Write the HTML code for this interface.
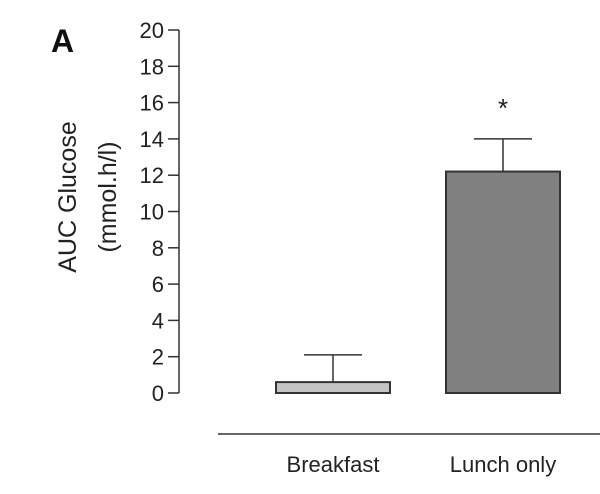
<!DOCTYPE html>
<html><head><meta charset="utf-8"><style>
html,body{margin:0;padding:0;background:#fff;}
svg{display:block;font-family:"Liberation Sans",sans-serif;}
</style></head><body>
<svg id="chart" width="600" height="494" viewBox="0 0 600 494">
<text x="51" y="52" font-size="32" font-weight="bold" fill="#111">A</text>
<g>
<text transform="translate(76,197) rotate(-90)" text-anchor="middle" font-size="25" fill="#222">AUC Glucose</text>
<text transform="translate(116,197) rotate(-90)" text-anchor="middle" font-size="25" fill="#222">(mmol.h/l)</text>
</g>
<g id="yaxis"></g>
<g id="bars"></g>
<line x1="218" y1="434" x2="600" y2="434" stroke="#333" stroke-width="1.5"/>
<g id="xlabels"></g>
</svg>
<script>
const categories = ["Breakfast", "Lunch only"];
const values = [0.6, 12.2];
const errors = [1.5, 1.8];
const yTicks = [0, 2, 4, 6, 8, 10, 12, 14, 16, 18, 20];
const significance = ["", "*"];

const NS = "http://www.w3.org/2000/svg";
const y0 = 393, y20 = 30, axisX = 179;
const yScale = v => y0 - (v / 20) * (y0 - y20);
const barCenters = [333, 503], barW = 114, capW = 58;
const colors = ["#c4c4c4", "#808080"];
function mk(tag, attrs, parent) {
  const e = document.createElementNS(NS, tag);
  for (const k in attrs) e.setAttribute(k, attrs[k]);
  parent.appendChild(e);
  return e;
}
const ya = document.getElementById("yaxis");
const axl = mk("line", {x1: axisX, y1: yScale(20), x2: axisX, y2: yScale(0), stroke: "#333", "stroke-width": 1.5}, ya);


yTicks.forEach(t => {
  const tk = mk("line", {x1: 168, y1: yScale(t), x2: axisX, y2: yScale(t), stroke: "#333", "stroke-width": 1.5}, ya);
  
  
  const lb = mk("text", {x: 164, y: yScale(t) + 8, "text-anchor": "end", "font-size": 22, fill: "#222"}, ya);
  lb.textContent = t;
  
  
});
const bg = document.getElementById("bars");
const xl = document.getElementById("xlabels");
categories.forEach((c, i) => {
  const cx = barCenters[i];
  const top = yScale(values[i]), bot = yScale(0);
  const eTop = yScale(values[i] + errors[i]);
  const el = mk("line", {x1: cx, y1: top, x2: cx, y2: eTop, stroke: "#333", "stroke-width": 1.5}, bg);
  
  
  const cap = mk("line", {x1: cx - capW / 2, y1: eTop, x2: cx + capW / 2, y2: eTop, stroke: "#333", "stroke-width": 1.5}, bg);
  
  
  const r = mk("rect", {x: cx - barW / 2, y: top, width: barW, height: Math.max(bot - top, 1), fill: colors[i], stroke: "#333", "stroke-width": 2}, bg);
  
  
  if (significance[i]) {
    const s = mk("text", {x: cx, y: eTop - 22, "text-anchor": "middle", "font-size": 26, fill: "#222"}, bg);
    s.textContent = significance[i];
    
    
  }
  const lb = mk("text", {x: cx, y: 472, "text-anchor": "middle", "font-size": 22, fill: "#222"}, xl);
  lb.textContent = c;
  
  
});
</script>
</body></html>
